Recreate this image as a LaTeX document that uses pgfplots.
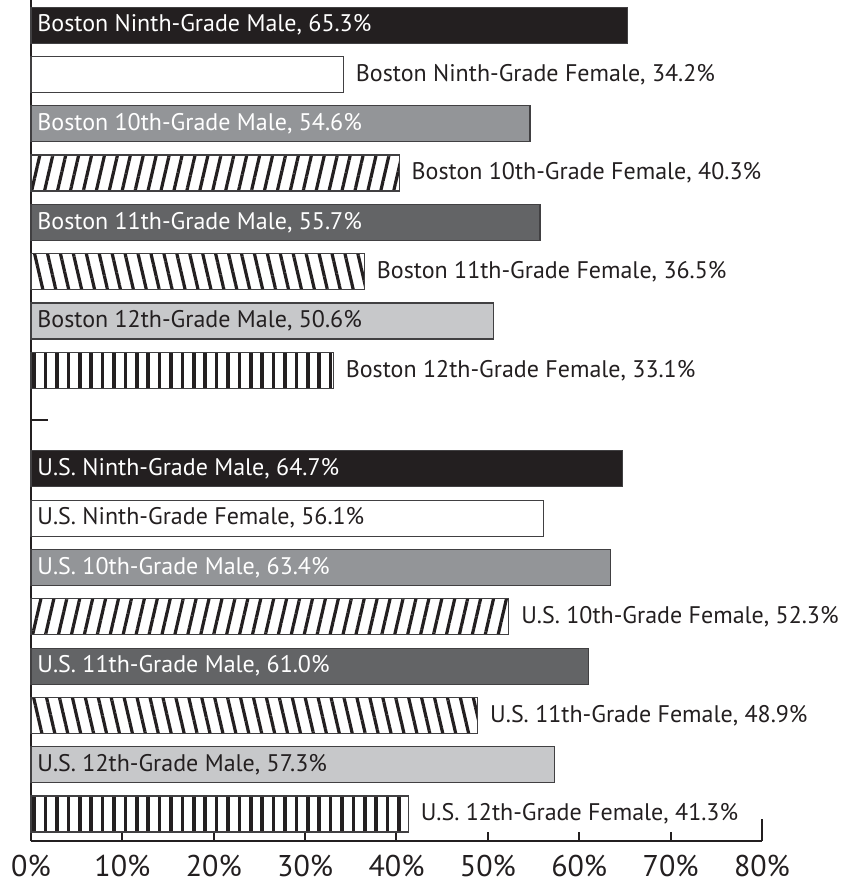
\documentclass[border=0pt]{standalone}
\usepackage{pgfplots}
\pgfplotsset{compat=1.18}
\usepackage{fontspec}
\setmainfont{PT Sans}
\usetikzlibrary{patterns.meta}
\definecolor{cblack}{HTML}{231F20}
\definecolor{cgray}{HTML}{939598}
\definecolor{cdark}{HTML}{636466}
\definecolor{clight}{HTML}{C7C8CA}
\definecolor{cedge}{HTML}{414042}
\begin{document}
\begin{tikzpicture}
\useasboundingbox (-15.5pt,-23.5pt) rectangle (404.5pt,420.5pt);
\begin{axis}[
  at={(0,0)}, anchor=south west,
  width=365.5pt, height=420.5pt, scale only axis,
  xmin=0, xmax=80, ymin=-0.547, ymax=16.51,
  axis x line*=bottom, axis y line*=left,
  axis line style={cblack, line width=1pt, -},
  xbar, bar width=18pt, bar shift=0pt,
  xtick={0,10,...,70},
  extra x ticks={80},
  extra x tick style={major tick length=11pt},
  xticklabel={\pgfmathprintnumber{\tick}\%},
  /pgf/number format/assume math mode=true,
  ticklabel style={font=\fontsize{15}{18}\selectfont, text=cblack},
  xticklabel style={anchor=north, inner sep=0pt, yshift=-7pt},
  tick style={cblack, line width=1pt},
  major tick length=4.5pt, tick align=inside,
  ytick=\empty,
  extra y ticks={8}, extra y tick labels={},
  extra y tick style={major tick length=8.5pt, tick align=inside},
  every axis plot/.append style={draw=cedge, line width=0.6pt},
  clip=false,
]
% Boston
\addplot[fill=cblack] coordinates {(65.3,16)};
\addplot[fill=white] coordinates {(34.2,15)};
\addplot[fill=cgray] coordinates {(54.6,14)};
\addplot[pattern={Lines[angle=77,distance=6.3pt,line width=1.6pt]}, pattern color=cblack] coordinates {(40.3,13)};
\addplot[fill=cdark] coordinates {(55.7,12)};
\addplot[pattern={Lines[angle=-77,distance=6.3pt,line width=1.6pt]}, pattern color=cblack] coordinates {(36.5,11)};
\addplot[fill=clight] coordinates {(50.6,10)};
\addplot[pattern={Lines[angle=90,distance=5.7pt,line width=1.8pt]}, pattern color=cblack] coordinates {(33.1,9)};
% U.S.
\addplot[fill=cblack] coordinates {(64.7,7)};
\addplot[fill=white] coordinates {(56.1,6)};
\addplot[fill=cgray] coordinates {(63.4,5)};
\addplot[pattern={Lines[angle=77,distance=6.3pt,line width=1.6pt]}, pattern color=cblack] coordinates {(52.3,4)};
\addplot[fill=cdark] coordinates {(61.0,3)};
\addplot[pattern={Lines[angle=-77,distance=6.3pt,line width=1.6pt]}, pattern color=cblack] coordinates {(48.9,2)};
\addplot[fill=clight] coordinates {(57.3,1)};
\addplot[pattern={Lines[angle=90,distance=5.7pt,line width=1.8pt]}, pattern color=cblack] coordinates {(41.3,0)};

\tikzset{lab/.style={anchor=west, inner sep=0pt, font=\fontsize{12}{14}\selectfont}}
\node[lab, text=white, xshift=3pt] at (axis cs:0,16) {Boston Ninth-Grade Male, 65.3\%};
\node[lab, text=cblack, xshift=6pt] at (axis cs:34.2,15) {Boston Ninth-Grade Female, 34.2\%};
\node[lab, text=white, xshift=3pt] at (axis cs:0,14) {Boston 10th-Grade Male, 54.6\%};
\node[lab, text=cblack, xshift=6pt] at (axis cs:40.3,13) {Boston 10th-Grade Female, 40.3\%};
\node[lab, text=white, xshift=3pt] at (axis cs:0,12) {Boston 11th-Grade Male, 55.7\%};
\node[lab, text=cblack, xshift=6pt] at (axis cs:36.5,11) {Boston 11th-Grade Female, 36.5\%};
\node[lab, text=cblack, xshift=3pt] at (axis cs:0,10) {Boston 12th-Grade Male, 50.6\%};
\node[lab, text=cblack, xshift=6pt] at (axis cs:33.1,9) {Boston 12th-Grade Female, 33.1\%};
\node[lab, text=white, xshift=3pt] at (axis cs:0,7) {U.S. Ninth-Grade Male, 64.7\%};
\node[lab, text=cblack, xshift=3pt] at (axis cs:0,6) {U.S. Ninth-Grade Female, 56.1\%};
\node[lab, text=white, xshift=3pt] at (axis cs:0,5) {U.S. 10th-Grade Male, 63.4\%};
\node[lab, text=cblack, xshift=6pt] at (axis cs:52.3,4) {U.S. 10th-Grade Female, 52.3\%};
\node[lab, text=white, xshift=3pt] at (axis cs:0,3) {U.S. 11th-Grade Male, 61.0\%};
\node[lab, text=cblack, xshift=6pt] at (axis cs:48.9,2) {U.S. 11th-Grade Female, 48.9\%};
\node[lab, text=cblack, xshift=3pt] at (axis cs:0,1) {U.S. 12th-Grade Male, 57.3\%};
\node[lab, text=cblack, xshift=6pt] at (axis cs:41.3,0) {U.S. 12th-Grade Female, 41.3\%};
\end{axis}
\end{tikzpicture}
\end{document}
